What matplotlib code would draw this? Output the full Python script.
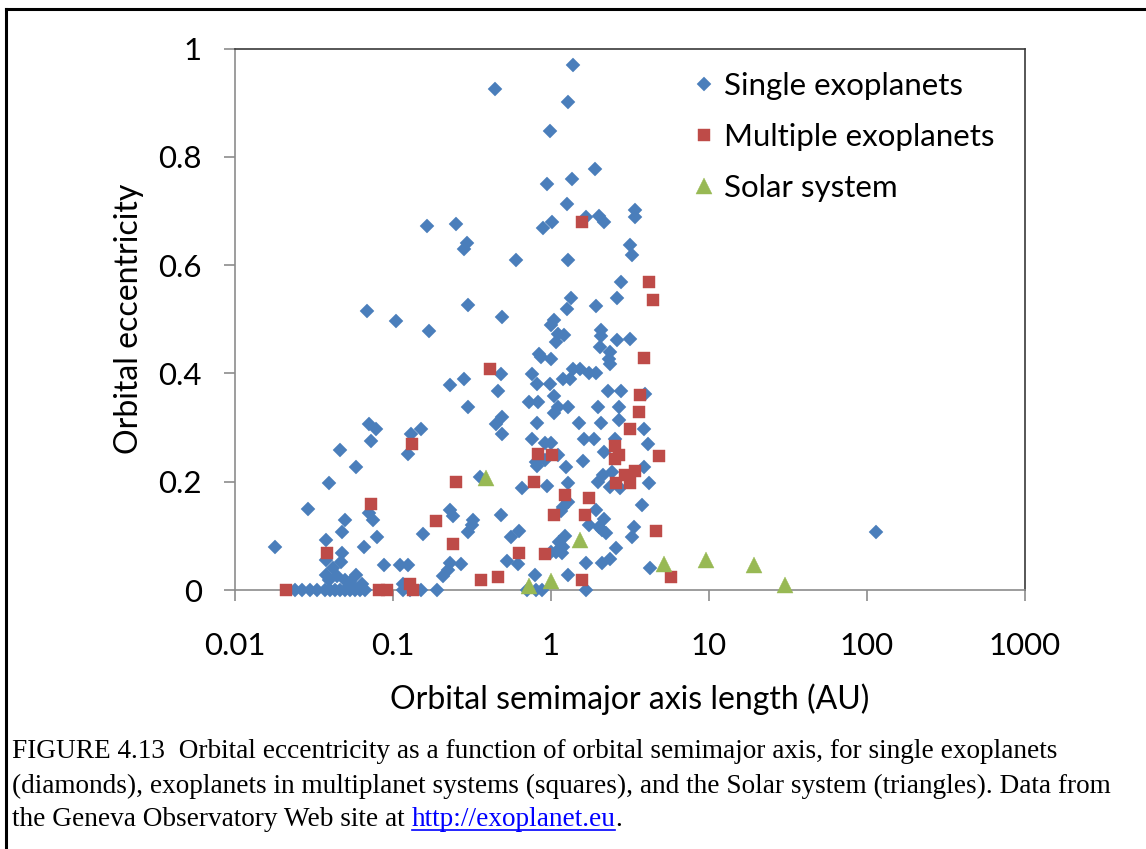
import matplotlib
matplotlib.use("Agg")
import matplotlib.pyplot as plt
from matplotlib.lines import Line2D
import numpy as np

# ---------------- data ----------------
single_a = [1.38, 0.44, 1.28, 0.99, 1.91, 1.35, 0.94, 1.27, 3.38, 3.38, 1.67, 2.0, 2.18, 0.163, 0.25,
            1.02, 0.89, 0.294, 0.283, 3.17, 3.27, 0.60, 1.29, 2.79, 2.61, 0.30, 1.34, 1.26, 1.93, 0.49,
            1.05, 1.0, 1.10, 1.20, 1.08, 2.06, 2.06, 2.03, 2.62, 3.17, 0.835, 0.87, 1.0, 2.35, 2.32,
            2.38, 0.48, 0.76, 1.38, 1.53, 1.75, 1.93, 0.28, 1.19, 1.31,
            0.068, 0.105, 0.168, 0.231, 0.46, 0.30, 0.49,
            0.82, 0.98, 3.95, 0.73, 0.83, 1.04, 2.29, 2.78, 1.11, 1.04, 1.28, 1.98, 2.71, 0.45, 0.49,
            0.81, 1.50, 2.08, 2.71, 3.87, 0.76, 0.91, 1.0, 1.61, 1.86, 2.55, 4.14, 0.80, 0.81, 0.91,
            1.11, 1.25, 1.59, 2.18, 3.87, 2.44, 2.13, 1.98, 2.75, 2.38, 4.16, 0.354, 0.66, 0.95, 1.29,
            1.19, 1.15, 1.29, 1.93, 1.75, 2.18, 2.0, 2.1, 2.24, 3.33, 3.27, 0.23, 0.32, 0.315, 0.30,
            0.48, 0.556, 0.627, 1.22, 1.12, 1.19, 1.07, 1.0, 1.17, 2.58, 2.35, 2.1, 1.67, 0.53, 0.618,
            0.229, 0.27, 4.21, 0.79, 1.29, 0.70, 0.80, 0.88, 1.67, 3.78, 114.0,
            0.071, 0.078, 0.0727, 0.0461, 0.1297, 0.150, 0.125, 0.0582, 0.0394, 0.0291, 0.0706, 0.0742,
            0.0496, 0.0477, 0.0374, 0.018, 0.0474, 0.0467, 0.0374, 0.0657, 0.0794, 0.154, 0.24, 0.088,
            0.110, 0.124, 0.207, 0.223,
            0.0374, 0.0418, 0.044, 0.0394, 0.0496, 0.0533, 0.0582, 0.0632,
            0.0240, 0.0264, 0.0298, 0.0328, 0.0371, 0.0398, 0.0429, 0.0461, 0.0496, 0.0533, 0.0573,
            0.0616, 0.0663, 0.116, 0.128, 0.151, 0.191, 0.116]
single_e = [0.970, 0.926, 0.902, 0.847, 0.777, 0.759, 0.749, 0.712, 0.701, 0.688, 0.689, 0.691, 0.679, 0.673, 0.676,
            0.679, 0.668, 0.641, 0.629, 0.638, 0.618, 0.609, 0.609, 0.569, 0.539, 0.527, 0.539, 0.519, 0.525, 0.504,
            0.499, 0.489, 0.472, 0.470, 0.458, 0.480, 0.469, 0.449, 0.461, 0.463, 0.435, 0.430, 0.427, 0.440, 0.427,
            0.418, 0.399, 0.399, 0.408, 0.408, 0.400, 0.400, 0.390, 0.390, 0.390,
            0.515, 0.497, 0.479, 0.379, 0.368, 0.338, 0.320,
            0.380, 0.380, 0.362, 0.347, 0.347, 0.358, 0.368, 0.368, 0.338, 0.327, 0.338, 0.338, 0.338, 0.306, 0.288,
            0.309, 0.309, 0.309, 0.314, 0.297, 0.279, 0.271, 0.271, 0.279, 0.279, 0.279, 0.269, 0.237, 0.229, 0.240,
            0.250, 0.228, 0.239, 0.255, 0.228, 0.218, 0.212, 0.200, 0.188, 0.191, 0.198, 0.208, 0.188, 0.192, 0.198,
            0.154, 0.145, 0.163, 0.148, 0.120, 0.132, 0.117, 0.111, 0.106, 0.117, 0.098, 0.148, 0.129, 0.120, 0.108,
            0.138, 0.098, 0.109, 0.100, 0.089, 0.080, 0.071, 0.070, 0.069, 0.078, 0.057, 0.049, 0.049, 0.054, 0.048,
            0.049, 0.048, 0.041, 0.028, 0.028, 0.0, 0.0, 0.0, 0.0, 0.157, 0.108,
            0.307, 0.297, 0.275, 0.258, 0.289, 0.297, 0.252, 0.228, 0.198, 0.149, 0.143, 0.129,
            0.129, 0.108, 0.092, 0.079, 0.069, 0.052, 0.055, 0.079, 0.097, 0.103, 0.137, 0.046,
            0.046, 0.046, 0.025, 0.037,
            0.028, 0.040, 0.025, 0.018, 0.018, 0.015, 0.028, 0.011,
            0.0, 0.0, 0.0, 0.0, 0.0, 0.0, 0.0, 0.0, 0.0, 0.0, 0.0,
            0.0, 0.0, 0.0, 0.0, 0.0, 0.0, 0.011]

multi_a = [1.57, 4.16, 4.41, 3.87, 0.41, 3.68, 3.58, 3.15, 0.83, 1.02, 2.55, 2.55, 2.71, 4.81, 2.95,
           3.38, 3.15, 2.58, 0.25, 0.78, 1.23, 1.75, 1.05, 1.63, 4.59, 0.63, 0.92, 5.76, 0.36, 0.46,
           1.58, 0.131, 0.073, 0.038, 0.186, 0.24, 0.021, 0.081, 0.091, 0.128, 0.133]
multi_e = [0.679, 0.569, 0.536, 0.429, 0.408, 0.360, 0.329, 0.298, 0.252, 0.249, 0.266, 0.241, 0.249, 0.248, 0.212,
           0.220, 0.198, 0.198, 0.200, 0.200, 0.175, 0.169, 0.138, 0.138, 0.109, 0.069, 0.066, 0.024, 0.018, 0.024,
           0.018, 0.269, 0.159, 0.069, 0.128, 0.085, 0.0, 0.0, 0.0, 0.012, 0.0]

solar_a = [0.387, 0.723, 1.0, 1.524, 5.20, 9.58, 19.2, 30.1]
solar_e = [0.206, 0.007, 0.017, 0.093, 0.048, 0.056, 0.046, 0.010]

x_ticks = [0.01, 0.1, 1, 10, 100, 1000]
x_tick_labels = ["0.01", "0.1", "1", "10", "100", "1000"]
y_ticks = [0, 0.2, 0.4, 0.6, 0.8, 1.0]
y_tick_labels = ["0", "0.2", "0.4", "0.6", "0.8", "1"]

series_labels = ["Single exoplanets", "Multiple exoplanets", "Solar system"]
x_label = "Orbital semimajor axis length (AU)"
y_label = "Orbital eccentricity"
caption_lines = [
    "FIGURE 4.13  Orbital eccentricity as a function of orbital semimajor axis, for single exoplanets",
    "(diamonds), exoplanets in multiplanet systems (squares), and the Solar system (triangles). Data from",
]
caption_last = "the Geneva Observatory Web site at "
caption_link = "http://exoplanet.eu"

# ---------------- style ----------------
W, H = 1146, 849
DPI = 100
blue, red, green = "#4A7EBB", "#BE4B48", "#98B954"
ui_font = ["Lato", "DejaVu Sans"]
serif_font = ["Liberation Serif", "DejaVu Serif"]
tick_fs = 22.5

fig = plt.figure(figsize=(W / DPI, H / DPI), dpi=DPI)
fig.patch.set_facecolor("white")

ax = fig.add_axes([235 / W, 1 - 590 / H, (1025 - 235) / W, (590 - 48.5) / H])
ax.set_xscale("log")
ax.set_xlim(0.01, 1000)
ax.set_ylim(0, 1)

ax.plot(single_a, single_e, linestyle="none", marker="D", ms=7, color=blue, mec=blue, mew=0.3,
        label=series_labels[0], zorder=3, clip_on=False)
ax.plot(multi_a, multi_e, linestyle="none", marker="s", ms=8.5, color=red, mec=red, mew=0.3,
        label=series_labels[1], zorder=4, clip_on=False)
ax.plot(solar_a, solar_e, linestyle="none", marker="^", ms=11, color=green, mec=green, mew=0.3,
        label=series_labels[2], zorder=5, clip_on=False)

ax.set_xticks(x_ticks)
ax.set_xticklabels(x_tick_labels)
ax.xaxis.set_minor_locator(matplotlib.ticker.NullLocator())
ax.set_yticks(y_ticks)
ax.set_yticklabels(y_tick_labels)

for s in ["left", "bottom"]:
    ax.spines[s].set_color("#8C8C8C")
    ax.spines[s].set_linewidth(1.2)
for s in ["top", "right"]:
    ax.spines[s].set_color("#3A3A3A")
    ax.spines[s].set_linewidth(1.2)

ax.tick_params(axis="both", direction="out", length=8, width=1.2, color="#8C8C8C",
               labelsize=tick_fs, labelcolor="#000000")
ax.tick_params(axis="y", pad=16)
ax.tick_params(axis="x", pad=22)
for lab in ax.get_xticklabels() + ax.get_yticklabels():
    lab.set_family(ui_font)

ax.set_xlabel(x_label, fontsize=tick_fs + 0.5, family=ui_font, labelpad=17)
ax.set_ylabel(y_label, fontsize=tick_fs + 0.5, family=ui_font, labelpad=10)

leg = ax.legend(loc="upper left", bbox_to_anchor=((668 - 235) / (1025 - 235), 1.0),
                frameon=False, prop={"family": ui_font, "size": tick_fs},
                handletextpad=0.25, labelspacing=0.73, handlelength=0.8, borderaxespad=0.35)

# outer frame (left and top edges visible)
fig.add_artist(Line2D([6 / W, 6 / W], [0, 1 - 9 / H], transform=fig.transFigure,
                      color="black", lw=2.2))
fig.add_artist(Line2D([6 / W, 1], [1 - 9 / H, 1 - 9 / H], transform=fig.transFigure,
                      color="black", lw=2.2))

# caption
cap_fs = 19.6
x0 = 12 / W
line_y = [752, 786, 820]
for txt, yy in zip(caption_lines, line_y[:2]):
    fig.text(x0, 1 - yy / H, txt, fontsize=cap_fs, family=serif_font, va="center", ha="left")
t_last = fig.text(x0, 1 - line_y[2] / H, caption_last, fontsize=cap_fs, family=serif_font,
                  va="center", ha="left")
fig.canvas.draw()
r = fig.canvas.get_renderer()
bb = t_last.get_window_extent(r)
t_link = fig.text(bb.x1 / W, 1 - line_y[2] / H, caption_link, fontsize=cap_fs, family=serif_font,
                  va="center", ha="left", color="#0000FF")
bb2 = t_link.get_window_extent(r)
fig.text(bb2.x1 / W, 1 - line_y[2] / H, ".", fontsize=cap_fs, family=serif_font, va="center", ha="left")
uy = (bb2.y0 + 3) / H
fig.add_artist(Line2D([bb2.x0 / W, bb2.x1 / W], [uy, uy], transform=fig.transFigure,
                      color="#0000FF", lw=1.2))

fig.savefig("out.png", dpi=DPI)
